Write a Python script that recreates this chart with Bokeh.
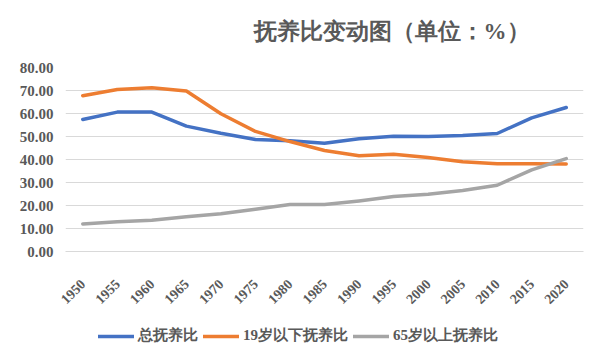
import math
from bokeh.plotting import figure
from bokeh.layouts import column
from bokeh.models import (FactorRange, Range1d, FixedTicker, NumeralTickFormatter,
                          Legend, LegendItem, Label, ColumnDataSource)
from bokeh.embed import file_html
from bokeh.resources import INLINE

years = ["1950", "1955", "1960", "1965", "1970", "1975", "1980", "1985",
         "1990", "1995", "2000", "2005", "2010", "2015", "2020"]
total_ratio = [57.4, 60.6, 60.6, 54.5, 51.4, 48.7, 48.2, 47.1,
               49.0, 50.1, 50.0, 50.4, 51.3, 58.1, 62.6]
young_ratio = [67.7, 70.4, 71.2, 69.8, 59.9, 52.2, 47.8, 43.9,
               41.6, 42.3, 40.9, 39.0, 38.1, 38.1, 38.0]
old_ratio = [12.0, 12.9, 13.6, 15.1, 16.4, 18.4, 20.4, 20.4,
             22.0, 23.9, 24.9, 26.5, 28.8, 35.5, 40.4]
series_names = ["总抚养比", "19岁以下抚养比", "65岁以上抚养比"]
y_ticks = [0, 10, 20, 30, 40, 50, 60, 70, 80]
title_text = "抚养比变动图（单位：%）"

colors = ["#4472C4", "#ED7D31", "#A5A5A5"]
txt = "#595959"
grid = "#D9D9D9"
serif = "Liberation Serif"
series = [total_ratio, young_ratio, old_ratio]


def bare(fig):
    fig.axis.visible = False
    fig.grid.visible = False
    fig.outline_line_color = None
    fig.background_fill_color = "white"
    fig.border_fill_color = "white"


# ---- title strip ----
t = figure(width=602, height=50, output_backend="svg", toolbar_location=None,
           x_range=Range1d(0, 1), y_range=Range1d(0, 1),
           min_border_left=0, min_border_right=0, min_border_top=0, min_border_bottom=0)
bare(t)
t.add_layout(Label(x=188, y=19, x_units="screen", y_units="screen", text=title_text,
                   text_font=serif, text_font_style="bold", text_font_size="23px",
                   text_color=txt, text_baseline="middle", text_align="left"))

# ---- main chart ----
p = figure(width=602, height=262, output_backend="svg", toolbar_location=None,
           x_range=FactorRange(*years), y_range=Range1d(0, 80),
           min_border_left=65, min_border_right=19, min_border_top=17,
           min_border_bottom=61)
p.outline_line_color = None
p.background_fill_color = "white"
p.border_fill_color = "white"

for vals, c in zip(series, colors):
    src = ColumnDataSource(dict(x=years, y=vals))
    p.line("x", "y", source=src, line_color=c, line_width=3.5,
           line_join="round", line_cap="round")

p.yaxis.ticker = FixedTicker(ticks=y_ticks)
p.yaxis.formatter = NumeralTickFormatter(format="0.00")
p.yaxis.axis_line_color = None
p.yaxis.major_tick_line_color = None
p.yaxis.minor_tick_line_color = None
p.yaxis.major_label_standoff = 6
p.yaxis.major_label_text_font = serif
p.yaxis.major_label_text_font_style = "bold"
p.yaxis.major_label_text_font_size = "15px"
p.yaxis.major_label_text_color = txt

p.xaxis.axis_line_color = grid
p.xaxis.major_tick_line_color = None
p.xaxis.minor_tick_line_color = None
p.xaxis.major_label_orientation = math.pi / 4
p.xaxis.major_label_standoff = 24
p.xaxis.major_label_text_font = serif
p.xaxis.major_label_text_font_style = "bold"
p.xaxis.major_label_text_font_size = "14px"
p.xaxis.major_label_text_color = txt

p.xgrid.grid_line_color = None
p.ygrid.grid_line_color = grid
p.ygrid.grid_line_width = 1

# ---- legend strip (same series, kept out of view; only the legend shows) ----
q = figure(width=602, height=50, output_backend="svg", toolbar_location=None,
           x_range=FactorRange(*years), y_range=Range1d(1000, 1001),
           min_border_left=0, min_border_right=0, min_border_top=0, min_border_bottom=0)
bare(q)
items = []
for name, vals, c in zip(series_names, series, colors):
    src = ColumnDataSource(dict(x=years, y=vals))
    r = q.line("x", "y", source=src, line_color=c, line_width=3.5, line_cap="round")
    items.append(LegendItem(label=name, renderers=[r]))
legend = Legend(items=items, orientation="horizontal", location=(33, 17),
                glyph_width=36, glyph_height=16, label_standoff=4, spacing=5,
                padding=0, margin=0, border_line_color=None, background_fill_alpha=0,
                label_text_font=serif, label_text_font_style="bold",
                label_text_font_size="15px", label_text_color=txt)
q.add_layout(legend, "center")

layout = column(t, p, q, spacing=0)
open("out.html", "w").write(file_html(layout, INLINE))
